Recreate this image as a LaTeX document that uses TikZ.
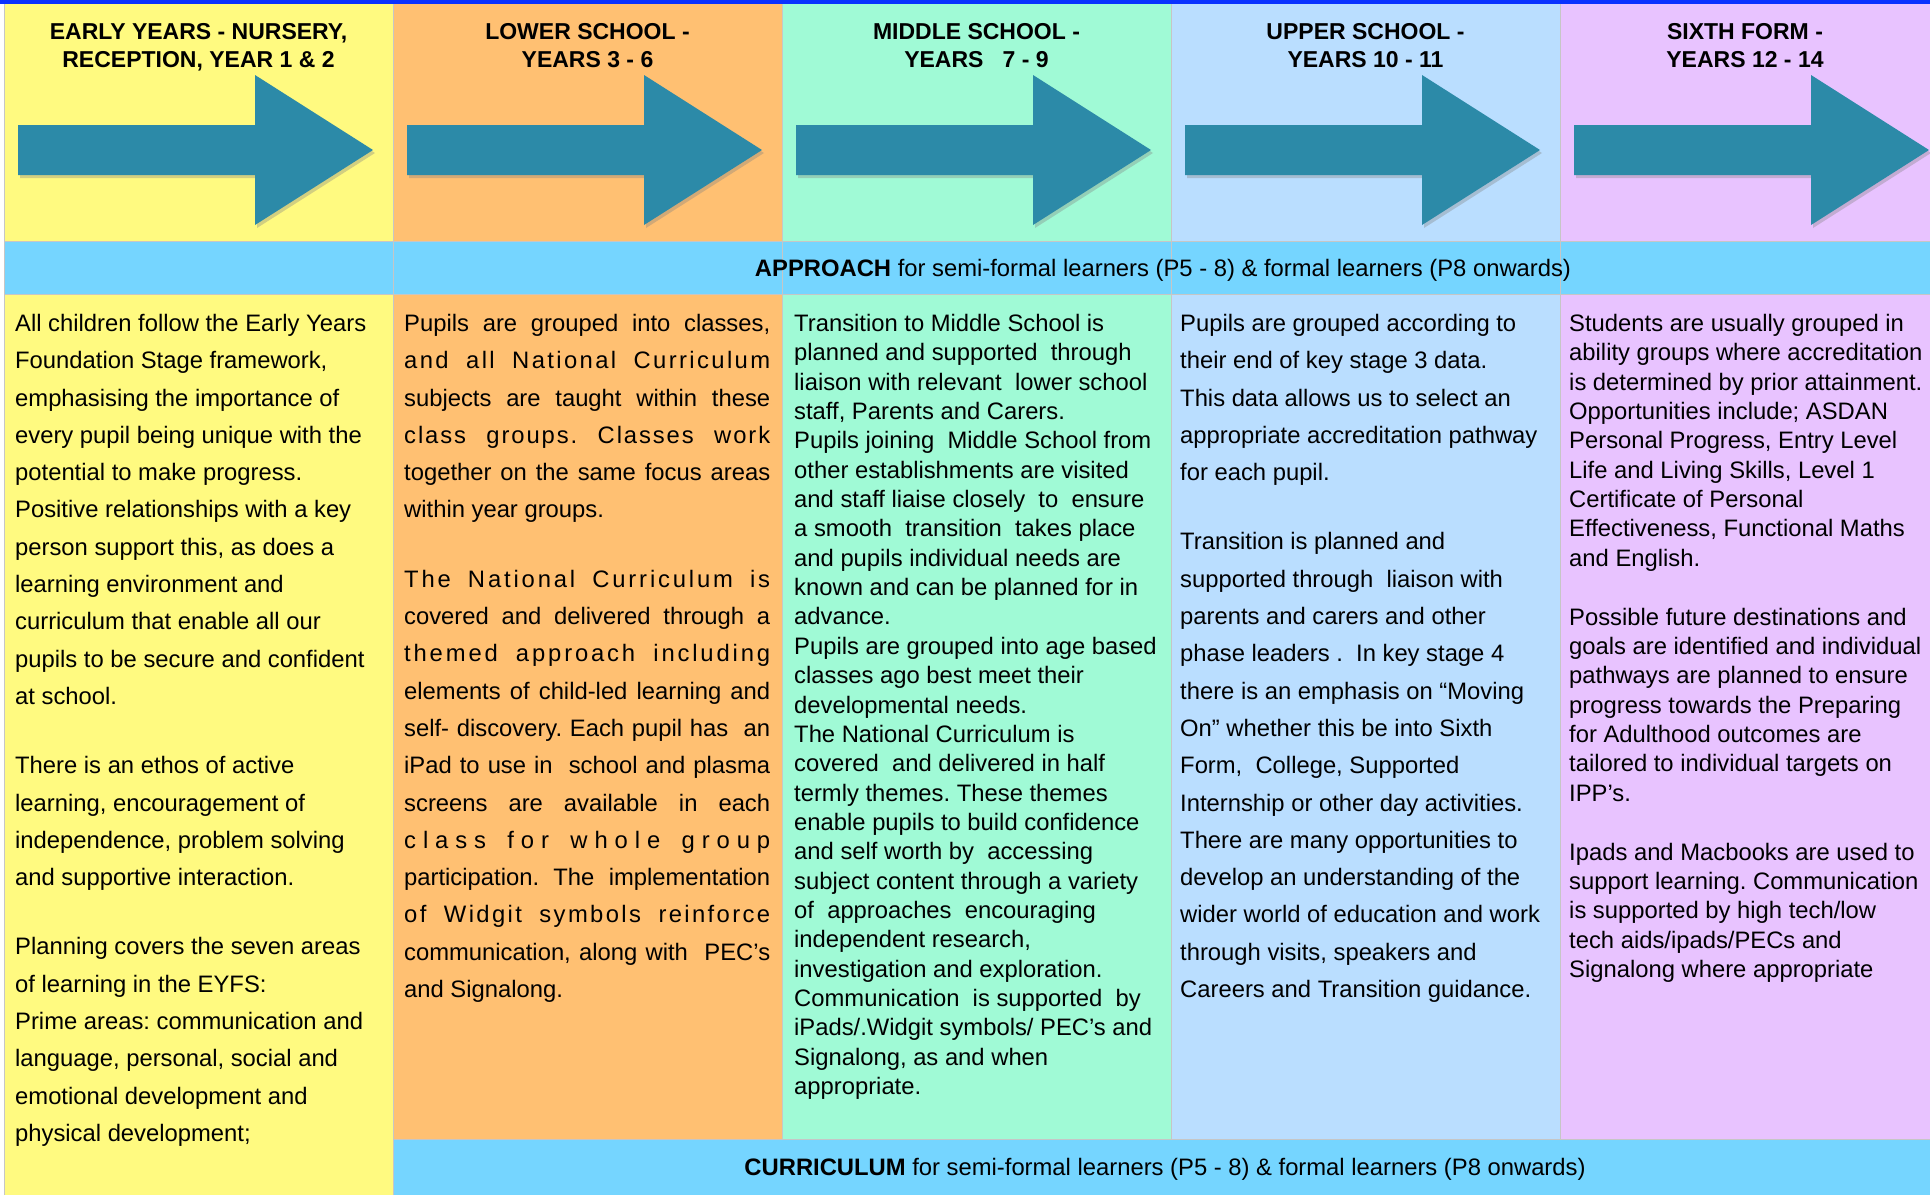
\documentclass[tikz,border=0pt]{standalone}
\usepackage{fontspec}
\setmainfont{Liberation Sans}
\usetikzlibrary{shadows,positioning}
\definecolor{eyfs}{RGB}{255,250,128}
\definecolor{lower}{RGB}{255,192,114}
\definecolor{middle}{RGB}{160,250,214}
\definecolor{upper}{RGB}{186,222,255}
\definecolor{sixth}{RGB}{232,195,255}
\definecolor{bandblue}{RGB}{117,213,255}
\definecolor{topblue}{RGB}{10,50,255}
\definecolor{arrowteal}{RGB}{44,138,168}
\frenchspacing
\newlength{\jwidth}\setlength{\jwidth}{366pt}
\newcommand{\jline}[2]{\makebox[\jwidth][s]{\addfontfeature{LetterSpace=#1}#2}}
\tikzset{
  gridln/.style   = { draw=gray!45, line width=1pt },
  bigarrow/.style = { fill=arrowteal, drop shadow={shadow xshift=2pt, shadow yshift=-3pt, opacity=0.35} },
  head/.style     = { anchor=north, inner sep=0pt, align=center, font=\fontsize{23}{28}\selectfont\bfseries },
  body/.style     = { anchor=north west, inner sep=0pt, align=left, font=\fontsize{23.8}{37.3}\selectfont },
  tightbody/.style= { body, font=\fontsize{23.8}{29.35}\selectfont },
  band/.style     = { anchor=base, inner sep=0pt, font=\fontsize{23.8}{28}\selectfont }
}

\begin{document}
\begin{tikzpicture}[x=1pt,y=-1pt]
    \useasboundingbox (0,0) rectangle (1930,1195);
    \fill[white] (0,0) rectangle (1930,1195);
    % columns
    \foreach \xl/\xr/\fc in {4/393/eyfs, 393/782/lower, 782/1171/middle, 1171/1560/upper, 1560/1930/sixth}
      \fill[\fc] (\xl,4) rectangle (\xr,1195);
    % bands
    \fill[bandblue] (4,241) rectangle (1930,294);
    \fill[bandblue] (393,1139) rectangle (1930,1195);
    % arrows
    \foreach \xl in {4,393,782,1171,1560}
      \fill[bigarrow] (\xl+14,125) -- (\xl+251,125) -- (\xl+251,75) -- (\xl+369,150)
        -- (\xl+251,225) -- (\xl+251,175) -- (\xl+14,175) -- cycle;
    % grid
    \draw[gridln] (4,4) -- (4,1195) (393,4) -- (393,1195);
    \foreach \x in {782,1171,1560} \draw[gridln] (\x,4) -- (\x,1139);
    \draw[gridln] (4,241) -- (1930,241) (4,294) -- (1930,294) (393,1139) -- (1930,1139);
    \fill[topblue] (0,0) rectangle (1930,4);
    % headers
    \foreach \xl/\xr/\txt [count=\i] in {4/393/{EARLY YEARS - NURSERY,\\RECEPTION, YEAR 1 \& 2},
        393/782/{LOWER SCHOOL -\\YEARS 3 - 6}, 782/1171/{MIDDLE SCHOOL -\\YEARS\ \ \ 7 - 9},
        1171/1560/{UPPER SCHOOL -\\YEARS 10 - 11}, 1560/1930/{SIXTH FORM -\\YEARS 12 - 14}}
      \node[head] (head\i) at ({(\xl+\xr)/2},23) {\txt};
    \node[band] (approach) at (1163,276) {\textbf{APPROACH} for semi-formal learners (P5 - 8) \& formal learners (P8 onwards)};
    \node[band] (curric) at (1165,1175.5) {\textbf{CURRICULUM} for semi-formal learners (P5 - 8) \& formal learners (P8 onwards)};
    % texts
    \node[body] (eyfstxt) at (15,314) {All children follow the Early Years\\
      Foundation Stage framework,\\
      emphasising the importance of\\
      every pupil being unique with the\\
      potential to make progress.\\
      Positive relationships with a key\\
      person support this, as does a\\
      learning environment and\\
      curriculum that enable all our\\
      pupils to be secure and confident\\
      at school.\\[32pt]
      There is an ethos of active\\
      learning, encouragement of\\
      independence, problem solving\\
      and supportive interaction.\\[32pt]
      Planning covers the seven areas\\
      of learning in the EYFS:\\
      Prime areas: communication and\\
      language, personal, social and\\
      emotional development and\\
      physical development;};
    \node[body] (lowertxt) at (404,314) {\jline{0}{Pupils are grouped into classes,}\\
      \jline{10}{and all National Curriculum}\\
      \jline{0}{subjects are taught within these}\\
      \jline{8}{class groups. Classes work}\\
      \jline{0}{together on the same focus areas}\\
      within year groups.\\[32pt]
      \jline{12}{The National Curriculum is}\\
      \jline{0}{covered and delivered through a}\\
      \jline{12}{themed approach including}\\
      \jline{0}{elements of child-led learning and}\\
      \jline{0}{self- discovery. Each pupil has\ \ an}\\
      \jline{0}{iPad to use in\ \ school and plasma}\\
      \jline{0}{screens are available in each}\\
      \jline{29}{class for whole group}\\
      \jline{0}{participation. The implementation}\\
      \jline{10}{of Widgit symbols reinforce}\\
      \jline{0}{communication, along with\ \ PEC’s}\\
      and Signalong.};
    \node[tightbody] (middletxt) at (794,314) {Transition to Middle School is\\
      planned and supported\ \ through\\
      liaison with relevant\ \ lower school\\
      staff, Parents and Carers.\\
      Pupils joining\ \ Middle School from\\
      other establishments are visited\\
      and staff liaise closely\ \ to\ \ ensure\\
      a smooth\ \ transition\ \ takes place\\
      and pupils individual needs are\\
      known and can be planned for in\\
      advance.\\
      Pupils are grouped into age based\\
      classes ago best meet their\\
      developmental needs.\\
      The National Curriculum is\\
      covered\ \ and delivered in half\\
      termly themes. These themes\\
      enable pupils to build confidence\\
      and self worth by\ \ accessing\\
      subject content through a variety\\
      of\ \ approaches\ \ encouraging\\
      independent research,\\
      investigation and exploration.\\
      Communication\ \ is supported\ \ by\\
      iPads/.Widgit symbols/ PEC’s and\\
      Signalong, as and when\\
      appropriate.};
    \node[body] (uppertxt) at (1180,314) {Pupils are grouped according to\\
      their end of key stage 3 data.\\
      This data allows us to select an\\
      appropriate accreditation pathway\\
      for each pupil.\\[32pt]
      Transition is planned and\\
      supported through\ \ liaison with\\
      parents and carers and other\\
      phase leaders .\ \ In key stage 4\\
      there is an emphasis on “Moving\\
      On” whether this be into Sixth\\
      Form,\ \ College, Supported\\
      Internship or other day activities.\\
      There are many opportunities to\\
      develop an understanding of the\\
      wider world of education and work\\
      through visits, speakers and\\
      Careers and Transition guidance.};
    \node[tightbody] (sixthtxt) at (1569,314) {Students are usually grouped in\\
      ability groups where accreditation\\
      is determined by prior attainment.\\
      Opportunities include; ASDAN\\
      Personal Progress, Entry Level\\
      Life and Living Skills, Level 1\\
      Certificate of Personal\\
      Effectiveness, Functional Maths\\
      and English.\\[29.5pt]
      Possible future destinations and\\
      goals are identified and individual\\
      pathways are planned to ensure\\
      progress towards the Preparing\\
      for Adulthood outcomes are\\
      tailored to individual targets on\\
      IPP’s.\\[29.5pt]
      Ipads and Macbooks are used to\\
      support learning. Communication\\
      is supported by high tech/low\\
      tech aids/ipads/PECs and\\
      Signalong where appropriate};
  \end{tikzpicture}
\end{document}
